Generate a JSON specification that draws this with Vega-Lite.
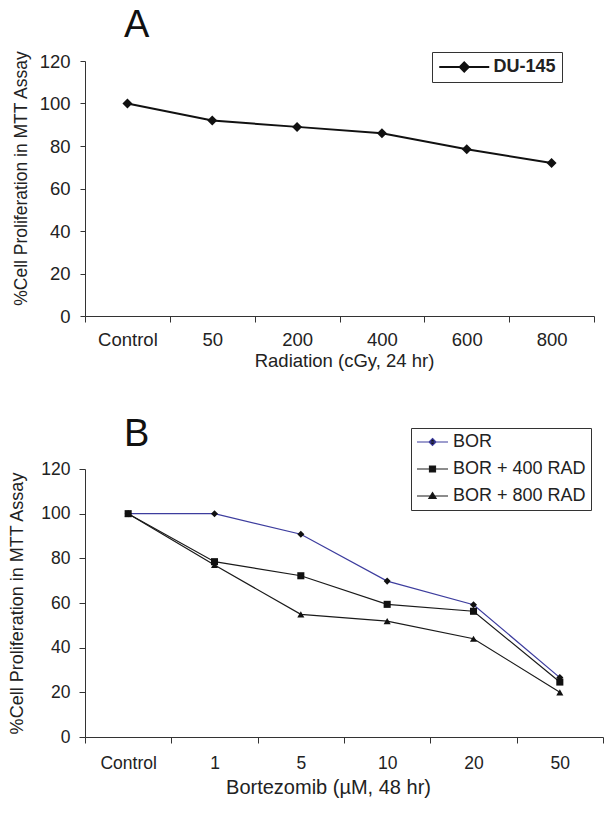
{
  "$schema": "https://vega.github.io/schema/vega-lite/v6.json",
  "background": "white",
  "padding": {"left": 8, "top": 6, "right": 0, "bottom": 0},
  "bounds": "flush",
  "spacing": 153,
  "resolve": {"scale": {"color": "independent", "shape": "independent"}, "legend": {"color": "independent", "shape": "independent"}},
  "config": {
    "view": {"stroke": null},
    "font": "Liberation Sans",
    "axis": {
      "labelFont": "Liberation Sans",
      "titleFont": "Liberation Sans",
      "labelColor": "#222",
      "titleColor": "#222",
      "titleFontWeight": "normal",
      "domainColor": "#333",
      "tickColor": "#333",
      "domainWidth": 1,
      "tickWidth": 1,
      "grid": false
    },
    "legend": {"labelFont": "Liberation Sans", "labelColor": "#222"}
  },
  "vconcat": [
    {
      "width": 509,
      "height": 255,
      "title": {"text": "A", "anchor": "start", "frame": "group", "dx": 39, "offset": -24.5, "fontSize": 38, "fontWeight": "normal", "baseline": "alphabetic", "color": "#111", "font": "Liberation Sans"},
      "data": {"values": [
        {"dose": "Control", "pct": 100, "cell": "DU-145"},
        {"dose": "50", "pct": 92, "cell": "DU-145"},
        {"dose": "200", "pct": 89, "cell": "DU-145"},
        {"dose": "400", "pct": 86, "cell": "DU-145"},
        {"dose": "600", "pct": 78.5, "cell": "DU-145"},
        {"dose": "800", "pct": 72, "cell": "DU-145"}
      ]},
      "layer": [
        {
          "mark": {"type": "line", "strokeWidth": 2},
          "encoding": {
            "x": {"field": "dose", "type": "nominal", "sort": null,
              "scale": {"type": "band", "paddingInner": 0, "paddingOuter": 0},
              "axis": {"title": "Radiation (cGy, 24  hr)", "labelAngle": 0, "tickBand": "extent", "labelFontSize": 18.5, "titleFontSize": 18.5, "titleX": 259, "labelPadding": 8, "titlePadding": 3, "tickSize": 6}},
            "y": {"field": "pct", "type": "quantitative",
              "scale": {"domain": [0, 120], "nice": false},
              "axis": {"title": "%Cell Proliferation in MTT Assay", "values": [0, 20, 40, 60, 80, 100, 120], "labelFontSize": 18.5, "titleFontSize": 17.5, "titleY": 117, "titlePadding": 9, "labelPadding": 10, "tickSize": 5}},
            "color": {"field": "cell", "type": "nominal", "scale": {"domain": ["DU-145"], "range": ["#111111"]},
              "legend": {"title": null, "orient": "none", "legendX": 347, "legendY": -9, "padding": 6, "strokeColor": "#333", "fillColor": "white",
                "labelFontSize": 18, "labelFontWeight": "bold", "symbolSize": 100, "symbolOffset": 17.25, "labelOffset": 20.25, "symbolStrokeWidth": 2,
                "symbolType": "M-5,0H5M0,-0.9L0.9,0L0,0.9L-0.9,0Z",
                "encode": {"symbols": {"update": {"fill": {"value": "#111111"}, "stroke": {"value": "#111111"}, "strokeWidth": {"value": 2}, "shape": {"value": "M-5,0H5M0,-0.9L0.9,0L0,0.9L-0.9,0Z"}}}}}}
          }
        },
        {
          "mark": {"type": "point", "shape": "diamond", "filled": true, "color": "#111111", "size": 100, "opacity": 1},
          "encoding": {
            "x": {"field": "dose", "type": "nominal", "sort": null},
            "y": {"field": "pct", "type": "quantitative"}
          }
        }
      ]
    },
    {
      "width": 518,
      "height": 268,
      "title": {"text": "B", "anchor": "start", "frame": "group", "dx": 39, "offset": -56, "fontSize": 38, "fontWeight": "normal", "baseline": "alphabetic", "color": "#111", "font": "Liberation Sans"},
      "data": {"values": [
        {"conc": "Control", "pct": 100, "treatment": "BOR"},
        {"conc": "1", "pct": 100, "treatment": "BOR"},
        {"conc": "5", "pct": 90.8, "treatment": "BOR"},
        {"conc": "10", "pct": 69.8, "treatment": "BOR"},
        {"conc": "20", "pct": 59.2, "treatment": "BOR"},
        {"conc": "50", "pct": 26.6, "treatment": "BOR"},
        {"conc": "Control", "pct": 100, "treatment": "BOR + 400 RAD"},
        {"conc": "1", "pct": 78.5, "treatment": "BOR + 400 RAD"},
        {"conc": "5", "pct": 72.2, "treatment": "BOR + 400 RAD"},
        {"conc": "10", "pct": 59.4, "treatment": "BOR + 400 RAD"},
        {"conc": "20", "pct": 56.3, "treatment": "BOR + 400 RAD"},
        {"conc": "50", "pct": 24.6, "treatment": "BOR + 400 RAD"},
        {"conc": "Control", "pct": 100, "treatment": "BOR + 800 RAD"},
        {"conc": "1", "pct": 77, "treatment": "BOR + 800 RAD"},
        {"conc": "5", "pct": 54.9, "treatment": "BOR + 800 RAD"},
        {"conc": "10", "pct": 51.9, "treatment": "BOR + 800 RAD"},
        {"conc": "20", "pct": 44, "treatment": "BOR + 800 RAD"},
        {"conc": "50", "pct": 20, "treatment": "BOR + 800 RAD"}
      ]},
      "layer": [
        {
          "mark": {"type": "line", "strokeWidth": 1.2},
          "encoding": {
            "x": {"field": "conc", "type": "nominal", "sort": null,
              "scale": {"type": "band", "paddingInner": 0, "paddingOuter": 0},
              "axis": {"title": "Bortezomib (µM, 48 hr)", "labelAngle": 0, "tickBand": "extent", "labelFontSize": 17.5, "titleFontSize": 20, "titleX": 243, "labelPadding": 11.5, "titlePadding": 5.5, "tickSize": 6}},
            "y": {"field": "pct", "type": "quantitative",
              "scale": {"domain": [0, 120], "nice": false},
              "axis": {"title": "%Cell Proliferation in MTT Assay", "values": [0, 20, 40, 60, 80, 100, 120], "labelFontSize": 17.5, "titleFontSize": 18, "titlePadding": 14, "labelPadding": 9, "tickSize": 6}},
            "color": {"field": "treatment", "type": "nominal",
              "scale": {"domain": ["BOR", "BOR + 400 RAD", "BOR + 800 RAD"], "range": ["#3d3d9e", "#1a1a1a", "#1a1a1a"]},
              "legend": {"title": null, "orient": "none", "legendX": 326, "legendY": -41, "padding": 5, "strokeColor": "#333", "fillColor": "white",
                "labelFontSize": 18, "labelFontWeight": "normal", "symbolSize": 64, "symbolOffset": 7.5, "labelOffset": 11.5, "symbolStrokeWidth": 1.2, "rowPadding": 9,
                "encode": {"symbols": {"update": {
                  "fill": {"value": "#111111"},
                  "stroke": {"signal": "datum.value === 'BOR' ? '#3d3d9e' : '#1a1a1a'"},
                  "strokeWidth": {"value": 1.2},
                  "shape": {"signal": "datum.value === 'BOR' ? 'M-3.875,0H3.875M0,-0.875L0.875,0L0,0.875L-0.875,0Z' : datum.value === 'BOR + 400 RAD' ? 'M-3.875,0H3.875M-0.75,-0.75H0.75V0.75H-0.75Z' : 'M-3.875,0H3.875M0,-0.85L0.9,0.6H-0.9Z'"}
                }}}}}
          }
        },
        {
          "mark": {"type": "point", "filled": true, "color": "#111111", "size": 50, "opacity": 1},
          "encoding": {
            "x": {"field": "conc", "type": "nominal", "sort": null},
            "y": {"field": "pct", "type": "quantitative"},
            "shape": {"field": "treatment", "type": "nominal",
              "scale": {"domain": ["BOR + 800 RAD", "BOR + 400 RAD", "BOR"], "range": ["triangle-up", "square", "diamond"]},
              "legend": null}
          }
        }
      ]
    }
  ]
}
